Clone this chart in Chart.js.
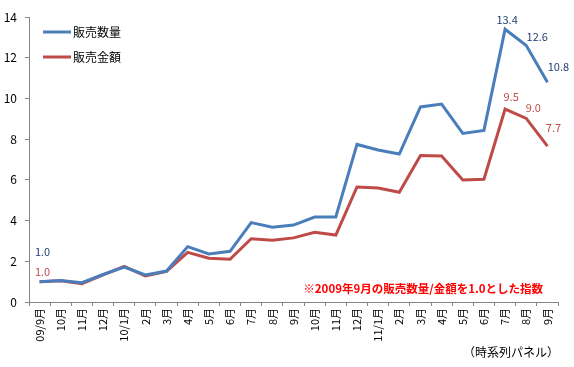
<!DOCTYPE html>
<html>
<head>
<meta charset="utf-8">
<script src="https://cdn.jsdelivr.net/npm/chart.js@4.4.0/dist/chart.umd.min.js"></script>
<style>
    html, body { margin: 0; padding: 0; background: #ffffff; }
    #salesChart { display: block; }
</style>
</head>
<body>
<canvas id="salesChart" width="574" height="367"></canvas>
<script>
// 月次ラベル（2009年9月〜2011年9月）
const months = ['09/9月', '10月', '11月', '12月', '10/1月', '2月', '3月', '4月', '5月', '6月', '7月', '8月', '9月',
    '10月', '11月', '12月', '11/1月', '2月', '3月', '4月', '5月', '6月', '7月', '8月', '9月'];

// 販売数量（指数）
const salesVolume = [1.0, 1.05, 0.95, 1.35, 1.72, 1.33, 1.52, 2.72, 2.36, 2.49, 3.9, 3.67, 3.78,
    4.17, 4.18, 7.74, 7.47, 7.27, 9.58, 9.72, 8.28, 8.43, 13.4, 12.6, 10.8];

// 販売金額（指数）
const salesAmount = [1.0, 1.04, 0.9, 1.33, 1.75, 1.28, 1.5, 2.44, 2.15, 2.1, 3.11, 3.03, 3.15,
    3.42, 3.29, 5.65, 5.6, 5.39, 7.2, 7.17, 5.99, 6.03, 9.48, 9.02, 7.66];

const seriesNames = ['販売数量', '販売金額'];
const yTicks = [0, 2, 4, 6, 8, 10, 12, 14];

// ラベルを表示する点
const labeledPoints = [0, 22, 23, 24];

const noteText = '※2009年9月の販売数量/金額を1.0とした指数';
const panelText = '（時系列パネル）';

Chart.defaults.font.family = "'Noto Sans CJK JP', 'Noto Sans', sans-serif";
Chart.defaults.color = '#000000';

// 凡例（グラフ内左上）
const insideLegend = {
    id: 'insideLegend',
    afterDraw(chart) {
        const ctx = chart.ctx;
        ctx.save();
        chart.data.datasets.forEach(function(ds, i) {
            const y = 32 + i * 25;
            ctx.strokeStyle = ds.borderColor;
            ctx.lineWidth = 3;
            ctx.beginPath();
            ctx.moveTo(43, y);
            ctx.lineTo(71, y);
            ctx.stroke();
            ctx.fillStyle = '#000000';
            ctx.font = "12px 'Noto Sans CJK JP'";
            ctx.textBaseline = 'middle';
            ctx.textAlign = 'left';
            ctx.fillText(ds.label, 73, y);
        });
        ctx.restore();
    }
};

// データラベルと注記
const pointLabels = {
    id: 'pointLabels',
    afterDatasetsDraw(chart, args, opts) {
        const ctx = chart.ctx;
        ctx.save();
        ctx.font = "11px 'Noto Sans CJK JP'";
        ctx.textAlign = 'center';
        ctx.textBaseline = 'middle';
        chart.data.datasets.forEach(function(ds, di) {
            const meta = chart.getDatasetMeta(di);
            ctx.fillStyle = opts.colors[di];
            labeledPoints.forEach(function(idx, k) {
                const pt = meta.data[idx];
                const off = opts.offsets[di][k];
                ctx.fillText(ds.data[idx].toFixed(1), pt.x + off[0], pt.y + off[1]);
            });
        });

        ctx.fillStyle = '#ff0000';
        ctx.font = "bold 11.5px 'Noto Sans CJK JP'";
        ctx.textAlign = 'right';
        ctx.fillText(noteText, 543, 289);

        ctx.fillStyle = '#000000';
        ctx.font = "12px 'Noto Sans CJK JP'";
        ctx.fillText(panelText, 559, 352);
        ctx.restore();
    }
};

new Chart(document.getElementById('salesChart').getContext('2d'), {
    type: 'line',
    data: {
        labels: months,
        datasets: [
            {
                label: seriesNames[0],
                data: salesVolume,
                borderColor: '#4a7ebb',
                backgroundColor: 'transparent',
                borderWidth: 3,
                tension: 0,
                pointRadius: 0
            },
            {
                label: seriesNames[1],
                data: salesAmount,
                borderColor: '#be4b48',
                backgroundColor: 'transparent',
                borderWidth: 3,
                tension: 0,
                pointRadius: 0
            }
        ]
    },
    options: {
        responsive: false,
        animation: false,
        layout: {
            padding: { top: 17, right: 16, left: 0, bottom: 0 }
        },
        plugins: {
            legend: { display: false },
            tooltip: { enabled: false },
            pointLabels: {
                colors: ['#1f3f73', '#be4b48'],
                offsets: [
                    [[3, -30], [2, -9], [11, -9], [11, -15]],
                    [[3, -10], [6, -12], [7, -11], [6, -18]]
                ]
            }
        },
        scales: {
            x: {
                offset: true,
                afterFit: function(scale) { scale.height = 65; },
                border: { color: '#868686', width: 1 },
                grid: {
                    offset: true,
                    drawOnChartArea: false,
                    drawTicks: true,
                    tickLength: 4,
                    color: '#868686'
                },
                ticks: {
                    autoSkip: false,
                    minRotation: 90,
                    maxRotation: 90,
                    padding: 2,
                    font: { size: 11 },
                    color: '#000000'
                }
            },
            y: {
                min: 0,
                max: 14,
                afterFit: function(scale) { scale.width = 29; },
                afterBuildTicks: function(scale) {
                    scale.ticks = yTicks.map(function(v) { return { value: v }; });
                },
                border: { color: '#868686', width: 1 },
                grid: {
                    drawOnChartArea: false,
                    drawTicks: true,
                    tickLength: 4,
                    color: '#868686'
                },
                ticks: {
                    padding: 8,
                    font: { size: 12 },
                    color: '#000000'
                }
            }
        }
    },
    plugins: [insideLegend, pointLabels]
});
</script>
</body>
</html>
